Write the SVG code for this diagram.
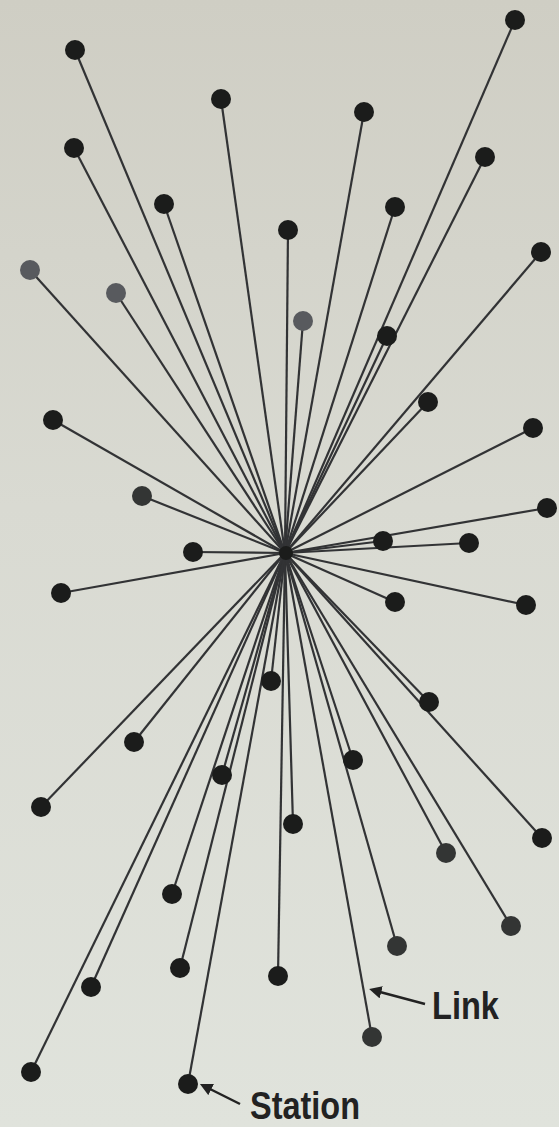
<svg xmlns="http://www.w3.org/2000/svg" width="559" height="1127" viewBox="0 0 559 1127">
<defs>
<linearGradient id="bg" x1="0" y1="0" x2="0" y2="1">
<stop offset="0" stop-color="#cfcec4"/>
<stop offset="0.45" stop-color="#d9dad2"/>
<stop offset="1" stop-color="#e0e3dc"/>
</linearGradient>
<marker id="ah" viewBox="0 0 10 10" refX="1" refY="5" markerWidth="5" markerHeight="5" orient="auto-start-reverse" markerUnits="strokeWidth">
<path d="M0,0 L10,5 L0,10 z" fill="#222"/>
</marker>
<style>
.l{stroke:#323335;stroke-width:2.2;fill:none}
.n{fill:#1b1c1b}
.g{fill:#585a5e}
.m{fill:#333534}
.t{font-family:"Liberation Sans",Arial,sans-serif;font-weight:bold;font-size:38px;fill:#222}
.a{stroke:#222;stroke-width:2.5;fill:none}
</style>
</defs>
<rect width="559" height="1127" fill="url(#bg)"/>
<g id="links">
<line class="l" x1="285" y1="553" x2="75" y2="50"/>
<line class="l" x1="285" y1="553" x2="221" y2="99"/>
<line class="l" x1="285" y1="553" x2="364" y2="112"/>
<line class="l" x1="285" y1="553" x2="515" y2="20"/>
<line class="l" x1="285" y1="553" x2="74" y2="148"/>
<line class="l" x1="285" y1="553" x2="164" y2="204"/>
<line class="l" x1="285" y1="553" x2="288" y2="230"/>
<line class="l" x1="285" y1="553" x2="395" y2="207"/>
<line class="l" x1="285" y1="553" x2="485" y2="157"/>
<line class="l" x1="285" y1="553" x2="30" y2="270"/>
<line class="l" x1="285" y1="553" x2="116" y2="293"/>
<line class="l" x1="285" y1="553" x2="303" y2="321"/>
<line class="l" x1="285" y1="553" x2="387" y2="336"/>
<line class="l" x1="285" y1="553" x2="541" y2="252"/>
<line class="l" x1="285" y1="553" x2="53" y2="420"/>
<line class="l" x1="285" y1="553" x2="428" y2="402"/>
<line class="l" x1="285" y1="553" x2="533" y2="428"/>
<line class="l" x1="285" y1="553" x2="142" y2="496"/>
<line class="l" x1="285" y1="553" x2="193" y2="552"/>
<line class="l" x1="285" y1="553" x2="383" y2="541"/>
<line class="l" x1="285" y1="553" x2="469" y2="543"/>
<line class="l" x1="285" y1="553" x2="547" y2="508"/>
<line class="l" x1="285" y1="553" x2="61" y2="593"/>
<line class="l" x1="285" y1="553" x2="395" y2="602"/>
<line class="l" x1="285" y1="553" x2="526" y2="605"/>
<line class="l" x1="285" y1="553" x2="271" y2="681"/>
<line class="l" x1="285" y1="553" x2="429" y2="702"/>
<line class="l" x1="285" y1="553" x2="134" y2="742"/>
<line class="l" x1="285" y1="553" x2="41" y2="807"/>
<line class="l" x1="285" y1="553" x2="222" y2="775"/>
<line class="l" x1="285" y1="553" x2="353" y2="760"/>
<line class="l" x1="285" y1="553" x2="293" y2="824"/>
<line class="l" x1="285" y1="553" x2="542" y2="838"/>
<line class="l" x1="285" y1="553" x2="446" y2="853"/>
<line class="l" x1="285" y1="553" x2="172" y2="894"/>
<line class="l" x1="285" y1="553" x2="511" y2="926"/>
<line class="l" x1="285" y1="553" x2="397" y2="946"/>
<line class="l" x1="285" y1="553" x2="180" y2="968"/>
<line class="l" x1="285" y1="553" x2="278" y2="976"/>
<line class="l" x1="285" y1="553" x2="91" y2="987"/>
<line class="l" x1="285" y1="553" x2="372" y2="1037"/>
<line class="l" x1="285" y1="553" x2="31" y2="1072"/>
<line class="l" x1="285" y1="553" x2="188" y2="1084"/>
<line class="a" x1="425" y1="1004" x2="380" y2="992" marker-end="url(#ah)"/>
<line class="a" x1="240" y1="1104" x2="210" y2="1089" marker-end="url(#ah)"/>
</g>
<g id="hub"><circle cx="286" cy="553" r="7" class="n"/></g>
<g id="stations">
<circle id="s1" class="n" cx="75" cy="50" r="10"/>
<circle id="s2" class="n" cx="221" cy="99" r="10"/>
<circle id="s3" class="n" cx="364" cy="112" r="10"/>
<circle id="s4" class="n" cx="515" cy="20" r="10"/>
<circle id="s5" class="n" cx="74" cy="148" r="10"/>
<circle id="s6" class="n" cx="164" cy="204" r="10"/>
<circle id="s7" class="n" cx="288" cy="230" r="10"/>
<circle id="s8" class="n" cx="395" cy="207" r="10"/>
<circle id="s9" class="n" cx="485" cy="157" r="10"/>
<circle id="s10" class="g" cx="30" cy="270" r="10"/>
<circle id="s11" class="g" cx="116" cy="293" r="10"/>
<circle id="s12" class="g" cx="303" cy="321" r="10"/>
<circle id="s13" class="n" cx="387" cy="336" r="10"/>
<circle id="s14" class="n" cx="541" cy="252" r="10"/>
<circle id="s15" class="n" cx="53" cy="420" r="10"/>
<circle id="s16" class="n" cx="428" cy="402" r="10"/>
<circle id="s17" class="n" cx="533" cy="428" r="10"/>
<circle id="s18" class="m" cx="142" cy="496" r="10"/>
<circle id="s19" class="n" cx="193" cy="552" r="10"/>
<circle id="s20" class="n" cx="383" cy="541" r="10"/>
<circle id="s21" class="n" cx="469" cy="543" r="10"/>
<circle id="s22" class="n" cx="547" cy="508" r="10"/>
<circle id="s23" class="n" cx="61" cy="593" r="10"/>
<circle id="s24" class="n" cx="395" cy="602" r="10"/>
<circle id="s25" class="n" cx="526" cy="605" r="10"/>
<circle id="s26" class="n" cx="271" cy="681" r="10"/>
<circle id="s27" class="n" cx="429" cy="702" r="10"/>
<circle id="s28" class="n" cx="134" cy="742" r="10"/>
<circle id="s29" class="n" cx="41" cy="807" r="10"/>
<circle id="s30" class="n" cx="222" cy="775" r="10"/>
<circle id="s31" class="n" cx="353" cy="760" r="10"/>
<circle id="s32" class="n" cx="293" cy="824" r="10"/>
<circle id="s33" class="n" cx="542" cy="838" r="10"/>
<circle id="s34" class="m" cx="446" cy="853" r="10"/>
<circle id="s35" class="n" cx="172" cy="894" r="10"/>
<circle id="s36" class="m" cx="511" cy="926" r="10"/>
<circle id="s37" class="m" cx="397" cy="946" r="10"/>
<circle id="s38" class="n" cx="180" cy="968" r="10"/>
<circle id="s39" class="n" cx="278" cy="976" r="10"/>
<circle id="s40" class="n" cx="91" cy="987" r="10"/>
<circle id="s41" class="m" cx="372" cy="1037" r="10"/>
<circle id="s42" class="n" cx="31" cy="1072" r="10"/>
<circle id="s43" class="n" cx="188" cy="1084" r="10"/>
</g>
<g id="labels">
<text class="t" x="432" y="1019" textLength="67" lengthAdjust="spacingAndGlyphs">Link</text>
<text class="t" x="250" y="1119" textLength="110" lengthAdjust="spacingAndGlyphs">Station</text>
</g>
</svg>
